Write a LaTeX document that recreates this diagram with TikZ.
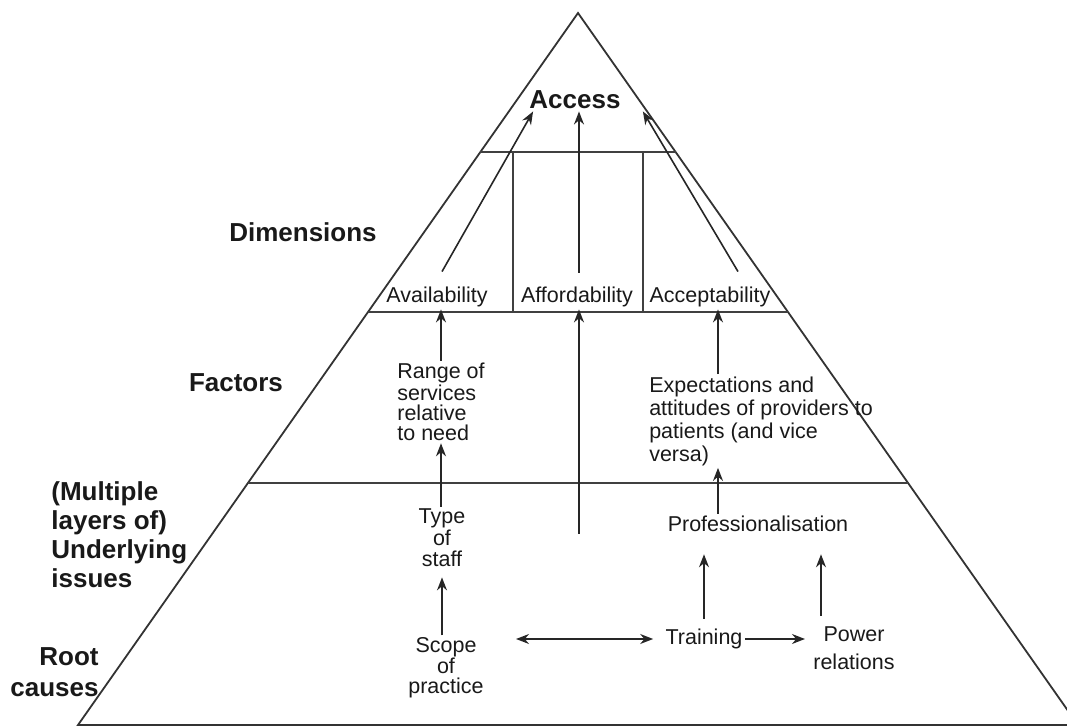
\documentclass[tikz,border=0pt]{standalone}
\usepackage{fontspec}
\setmainfont{Liberation Sans}
\usetikzlibrary{arrows.meta,calc,positioning}

\begin{document}
\begin{tikzpicture}[x=0.5pt,y=-0.5pt]

\tikzset{edge/.style={draw=black!80,line width=0.9pt},
divide/.style={draw=black!75,line width=0.8pt},
item/.style={font=\fontsize{10.75}{11.5}\selectfont,text=black!90,inner sep=1pt},
level/.style={font=\fontsize{13}{14.5}\selectfont\bfseries,text=black!90,inner sep=0pt},
transitions/.style={->,>={Stealth[length=6.5pt,width=5pt]},line width=0.8pt,draw=black!85},
both/.style={<->,>={Stealth[length=6.5pt,width=5pt]},line width=0.8pt,draw=black!85}}

\useasboundingbox (0,0) rectangle (1067,727);

% Pyramid
\coordinate (top) at (578,13);
\coordinate (bl) at (78,725);
\coordinate (br) at (1078,725);
\draw[edge] (bl) -- (top) -- (br) -- cycle;
\draw[divide] ($(top)!0.1952!(bl)$) -- ($(top)!0.1952!(br)$);
\draw[divide] ($(top)!0.4199!(bl)$) -- ($(top)!0.4199!(br)$);
\draw[divide] ($(top)!0.6601!(bl)$) -- ($(top)!0.6601!(br)$);
\draw[divide,line width=0.6pt] (513,152) -- (513,312);
\draw[divide,line width=0.6pt] (643,152) -- (643,312);

% Guides for the vertical arrows
\coordinate (cA) at (441,0);
\coordinate (cC) at (718,0);
\coordinate (cD) at (821,0);
\coordinate (low) at (579,534);

% Levels
\node (dim) [level] at (303,232) {Dimensions};
\node (fac) [level] at (236,383) {Factors};
\node (und) [level,align=left,anchor=west] at (51,535) {(Multiple\\layers of)\\Underlying\\issues};
\node (root) [level,align=right,anchor=east,font=\fontsize{13}{15.5}\selectfont\bfseries] at (99,672) {Root\\causes};

% Access and its dimensions
\node (access) [item,font=\fontsize{13}{14}\selectfont\bfseries] at (575,100) {Access};
\node (avail) [item] at (437,297) {Availability};
\node (afford) [item] at (577,297) {Affordability};
\node (accept) [item] at (710,297) {Acceptability};

% Factors
\node (range) [item,align=left,font=\fontsize{10.75}{10}\selectfont] at (441,402) {Range of\\services\\relative\\to need};
\node (expect) [item,align=left] at (761,421) {Expectations and\\attitudes of providers to\\patients (and vice\\versa)};

% Underlying issues and root causes
\node (staff) [item,align=center,font=\fontsize{10.75}{10.75}\selectfont] at (442,538) {Type\\of\\staff};
\node (prof) [item] at (758,524) {Professionalisation};
\node (scope) [item,align=center,font=\fontsize{10.75}{10.25}\selectfont] at (446,668) {Scope\\of\\practice};
\node (training) [item] at (704,639) {Training};
\node (power) [item,align=center,font=\fontsize{10.75}{14}\selectfont] at (854,648) {Power\\relations};

% Arrows into access
\draw[transitions] ([shift={(5,-13)}]avail.north) -- ([xshift=3pt]access.south west);
\draw[transitions] ([xshift=1pt,yshift=6pt]afford.north) -- ([xshift=2pt]access.south);
\draw[transitions] ([shift={(28,-13)}]accept.north) -- ([xshift=10pt]access.south east);

% Arrows into dimensions
\draw[transitions] (range.north -| cA) -- (avail.south -| cA);
\draw[transitions] (low) -- (afford.south -| low);
\draw[transitions] (expect.north -| cC) -- (accept.south -| cC);

% Arrows into factors
\draw[transitions] (staff.north -| cA) -- (range.south -| cA);
\draw[transitions] (prof.north -| cC) -- (expect.south -| cC);

% Arrows between root causes and issues
\draw[transitions,shorten >=4pt] (scope.north -| staff) -- (staff.south);
\draw[both,shorten <=15pt,shorten >=5pt] (scope.east |- training.west) -- (training.west);
\draw[transitions,shorten >=3pt] (training.east) -- (training.east -| power.west);
\draw[transitions,shorten <=4pt,shorten >=10pt] (training.north) -- (training.north |- prof.south);
\draw[transitions,shorten <=4pt,shorten >=10pt] (power.north -| cD) -- (prof.south -| cD);

\end{tikzpicture}
\end{document}
